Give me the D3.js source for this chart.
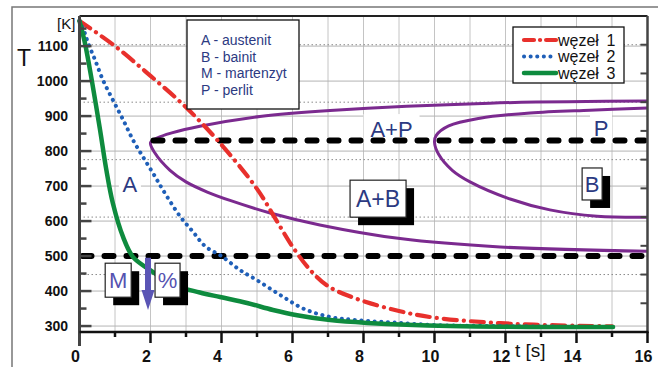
<!DOCTYPE html>
<html>
<head>
<meta charset="utf-8">
<script src="https://cdn.jsdelivr.net/npm/d3@7"></script>
<style>
  body { margin: 0; background: #fff; }
  svg { display: block; font-family: Arial, "Liberation Sans", sans-serif; }
</style>
</head>
<body>
<div id="chart"></div>
<script>
// cooling curves, [t (s), T (K)]
const wezel1 = [[0, 1172], [1, 1100], [2, 1015], [3, 925], [4, 818], [5, 692], [5.5, 610], [6, 527],
  [6.5, 460], [7, 414], [7.8, 378], [9, 343], [10, 324], [11.4, 311], [12.8, 304], [14.5, 300], [15, 299]];
const wezel2 = [[0, 1172], [0.15, 1137], [0.24, 1109], [0.44, 1060], [0.66, 1003], [0.94, 946], [1.23, 889],
  [1.51, 831], [1.79, 783], [2.07, 737], [2.35, 689], [2.83, 614], [3.2, 569], [3.55, 527], [4.0, 500],
  [4.52, 460], [5.0, 431], [5.65, 389], [6.3, 350], [7.06, 326], [7.82, 317], [9.03, 309], [9.96, 303],
  [11.85, 300], [15.0, 297]];
const wezel3 = [[0, 1172], [0.15, 1110], [0.35, 1000], [0.58, 860], [0.75, 750], [0.94, 651], [1.23, 554],
  [1.51, 497], [1.99, 460], [2.65, 417], [3.39, 396], [3.96, 383], [4.72, 366], [5.45, 346], [6.13, 331],
  [7.06, 317], [8.1, 309], [10.44, 300], [15.03, 297]];

// TTT curves (start / end of transformation)
const tttStart = [[16, 943], [11.56, 937], [7.06, 916], [5.08, 899], [3.39, 871], [2.6, 852], [2.2, 838],
  [2.0, 824], [2.12, 795], [2.55, 745], [3.0, 712], [3.6, 683], [4.24, 659], [5.37, 623], [6.77, 589],
  [9.03, 550], [11.85, 526], [16, 514]];
const tttEnd = [[16, 923], [14.38, 917], [12.69, 909], [11.28, 894], [10.4, 872], [10.05, 845], [10.0, 826],
  [10.12, 790], [10.5, 745], [11.0, 712], [12.13, 663], [13.25, 632], [14.58, 614], [16, 611]];

// critical temperatures: [T, from t]
const critLines = [[830, 2], [500, 0]];

const timeTicks = d3.range(0, 17, 2);
const timeMinor = d3.range(0, 17, 1);
const tempTicks = d3.range(300, 1101, 100);
const tempMinor = d3.range(300, 1151, 50);

const seriesNames = ['węzeł  1', 'węzeł  2', 'węzeł  3'];
const phaseNotes = ['A - austenit', 'B - bainit', 'M - martenzyt', 'P - perlit'];

const width = 658, height = 367;
const svg = d3.select('#chart').append('svg')
  .attr('width', width)
  .attr('height', height);

const x = d3.scaleLinear().domain([0, 16]).range([79.5, 647.5]);
const y = d3.scaleLinear().domain([283, 1186]).range([332, 16]);
const yr = d3.scaleLinear().domain([0, 11]).range([332, 16]);

// outer frame
svg.append('path')
  .attr('d', `M12,${height + 5}V7H${width + 5}`)
  .attr('fill', 'none')
  .attr('stroke', '#777')
  .attr('stroke-width', 1.5);

// grid
const grid = svg.append('g');
grid.selectAll('line.v').data(timeMinor.slice(1, -1)).enter().append('line')
  .attr('x1', (d) => x(d)).attr('x2', (d) => x(d))
  .attr('y1', y.range()[1]).attr('y2', y.range()[0])
  .attr('stroke', '#c4c4c4').attr('stroke-width', 1);
grid.selectAll('line.h').data(tempTicks).enter().append('line')
  .attr('x1', x(0)).attr('x2', x(16))
  .attr('y1', (d) => y(d)).attr('y2', (d) => y(d))
  .attr('stroke', '#b4b4b4').attr('stroke-width', 1);
grid.selectAll('line.d').data([2, 4, 6, 8, 10]).enter().append('line')
  .attr('x1', x(0)).attr('x2', x(16))
  .attr('y1', (d) => yr(d)).attr('y2', (d) => yr(d))
  .attr('stroke', '#8a8a8a').attr('stroke-width', 1)
  .attr('stroke-dasharray', '1.5 2.5');

// white backgrounds for bare labels
const bg = svg.append('g').attr('fill', '#fff');
bg.append('rect').attr('x', x(1.42) - 11).attr('y', y(683) - 19).attr('width', 22).attr('height', 22);
bg.append('rect').attr('x', x(8.79) - 28).attr('y', y(840) - 23).attr('width', 56).attr('height', 27);
bg.append('rect').attr('x', x(14.69) - 11).attr('y', y(843) - 26).attr('width', 22).attr('height', 33);

const smooth = d3.line().x((d) => x(d[0])).y((d) => y(d[1])).curve(d3.curveCatmullRom.alpha(0.5));

// TTT curves
svg.selectAll('path.ttt').data([tttStart, tttEnd]).enter().append('path')
  .attr('d', smooth)
  .attr('fill', 'none')
  .attr('stroke', '#7b2a8f')
  .attr('stroke-width', 3);

// critical temperature lines
svg.selectAll('line.crit').data(critLines).enter().append('line')
  .attr('x1', (d) => x(d[1]) + 3).attr('x2', x(16) - 3)
  .attr('y1', (d) => y(d[0])).attr('y2', (d) => y(d[0]))
  .attr('stroke', '#000')
  .attr('stroke-width', 6)
  .attr('stroke-linecap', 'round')
  .attr('stroke-dasharray', '9 13');

// cooling curves
const styles = [
  { color: '#e8302c', width: 4.2, dash: '13 7 0.1 7' },
  { color: '#1f5fb8', width: 4, dash: '0.1 6.5' },
  { color: '#0e8b3e', width: 4.5, dash: null },
];
svg.selectAll('path.cool').data([wezel1, wezel2, wezel3]).enter().append('path')
  .attr('d', smooth)
  .attr('fill', 'none')
  .attr('stroke', (d, i) => styles[i].color)
  .attr('stroke-width', (d, i) => styles[i].width)
  .attr('stroke-linecap', 'round')
  .attr('stroke-dasharray', (d, i) => styles[i].dash);

// axes
const axes = svg.append('g').attr('stroke-linecap', 'butt');
axes.append('line').attr('x1', x(0)).attr('x2', x(16)).attr('y1', y.range()[1]).attr('y2', y.range()[1])
  .attr('stroke', '#222').attr('stroke-width', 2);
axes.append('line').attr('x1', x(16)).attr('x2', x(16)).attr('y1', y.range()[1]).attr('y2', y.range()[0] + 1)
  .attr('stroke', '#444').attr('stroke-width', 2.5);
axes.selectAll('line.rt').data(d3.range(1, 11)).enter().append('line')
  .attr('x1', x(16) - 7).attr('x2', x(16))
  .attr('y1', (d) => yr(d)).attr('y2', (d) => yr(d))
  .attr('stroke', '#444').attr('stroke-width', 2);
axes.append('line').attr('x1', x(0)).attr('x2', x(0)).attr('y1', y.range()[1]).attr('y2', y.range()[0] + 14)
  .attr('stroke', '#444').attr('stroke-width', 3);
axes.selectAll('line.lt').data(tempMinor).enter().append('line')
  .attr('x1', x(0)).attr('x2', (d) => x(0) + (d % 100 === 0 ? 12 : 7))
  .attr('y1', (d) => y(d)).attr('y2', (d) => y(d))
  .attr('stroke', '#444').attr('stroke-width', 2.5);
axes.append('line').attr('x1', x(0)).attr('x2', x(16) + 1).attr('y1', y.range()[0]).attr('y2', y.range()[0])
  .attr('stroke', '#111').attr('stroke-width', 2.5);
axes.selectAll('line.bt').data(timeMinor.slice(1)).enter().append('line')
  .attr('x1', (d) => x(d)).attr('x2', (d) => x(d))
  .attr('y1', y.range()[0]).attr('y2', (d) => y.range()[0] + (d % 2 === 0 ? 11 : 5))
  .attr('stroke', '#111').attr('stroke-width', 2.5);

// tick labels
svg.append('g').selectAll('text').data(tempTicks).enter().append('text')
  .attr('x', 68).attr('y', (d) => y(d)).attr('dy', '0.36em')
  .attr('text-anchor', 'end')
  .style('font-size', '14px').style('font-weight', 'bold').attr('fill', '#111')
  .text((d) => d);
svg.append('g').selectAll('text').data(timeTicks).enter().append('text')
  .attr('x', (d) => x(d) - 4).attr('y', 362)
  .attr('text-anchor', 'middle')
  .style('font-size', '16px').style('font-weight', 'bold').attr('fill', '#111')
  .text((d) => d);

svg.append('text').attr('x', 17).attr('y', 66).style('font-size', '23px').attr('fill', '#111').text('T');
svg.append('text').attr('x', 57).attr('y', 29).style('font-size', '15px').attr('fill', '#111').text('[K]');
svg.append('text').attr('x', 515).attr('y', 357).style('font-size', '19px').attr('fill', '#111').text('t [s]');

// phase labels
const navy = '#2c3a82';
svg.append('text').attr('x', x(1.42)).attr('y', y(683)).attr('text-anchor', 'middle')
  .style('font-size', '22px').attr('fill', navy).text('A');
svg.append('text').attr('x', x(8.79)).attr('y', y(840)).attr('text-anchor', 'middle')
  .style('font-size', '22px').attr('fill', navy).text('A+P');
svg.append('text').attr('x', x(14.69)).attr('y', y(843)).attr('text-anchor', 'middle')
  .style('font-size', '22px').attr('fill', navy).text('P');

// boxed labels with shadows (on top of the curves)
function boxLabel(t, T, w, h, label, color, size) {
  const cx = x(t), cy = y(T);
  const g = svg.append('g');
  g.append('rect').attr('x', cx - w / 2 + 8).attr('y', cy - h / 2 + 8).attr('width', w).attr('height', h)
    .attr('fill', '#000');
  g.append('rect').attr('x', cx - w / 2).attr('y', cy - h / 2).attr('width', w).attr('height', h)
    .attr('fill', '#fff').attr('stroke', '#222').attr('stroke-width', 1.2);
  g.append('text').attr('x', cx).attr('y', cy).attr('dy', '0.36em').attr('text-anchor', 'middle')
    .style('font-size', size + 'px').attr('fill', color).text(label);
}
boxLabel(8.41, 664, 56, 37, 'A+B', navy, 23);
boxLabel(14.44, 706, 20, 32, 'B', navy, 22);
boxLabel(1.09, 431, 26, 34, 'M', '#5552b0', 22);
boxLabel(2.48, 431, 25, 34, '%', '#5552b0', 22);

// cooling arrow through M region
const ax = x(1.93);
svg.append('path')
  .attr('d', `M${ax - 3},${y(495)}L${ax + 3},${y(495)}L${ax + 3},${y(403)}L${ax + 6.5},${y(403)}`
    + `L${ax},${y(346)}L${ax - 6.5},${y(403)}L${ax - 3},${y(403)}Z`)
  .attr('fill', '#5a55b5');

// phase key
const note = svg.append('g');
note.append('rect').attr('x', 187).attr('y', 20).attr('width', 112).attr('height', 89)
  .attr('fill', '#fff').attr('stroke', '#111').attr('stroke-width', 1.3);
note.selectAll('text').data(phaseNotes).enter().append('text')
  .attr('x', 201).attr('y', (d, i) => 45 + i * 16.6)
  .style('font-size', '14px').attr('fill', navy)
  .text((d) => d);

// legend
const legend = svg.append('g');
legend.append('rect').attr('x', 513).attr('y', 27).attr('width', 111).attr('height', 56)
  .attr('fill', '#fff').attr('stroke', '#111').attr('stroke-width', 1.3);
const rows = legend.selectAll('g').data(seriesNames).enter().append('g')
  .attr('transform', (d, i) => `translate(0,${40 + i * 16.5})`);
rows.append('line').attr('x1', 524).attr('x2', 556).attr('y1', 0).attr('y2', 0)
  .attr('stroke', (d, i) => styles[i].color)
  .attr('stroke-width', (d, i) => styles[i].width)
  .attr('stroke-linecap', 'round')
  .attr('stroke-dasharray', (d, i) => (i === 0 ? '10 6 0.1 6' : styles[i].dash));
rows.append('text').attr('x', 558).attr('y', 0).attr('dy', '0.36em')
  .style('font-size', '16px').attr('fill', '#111')
  .text((d) => d.split('  ')[0]);
rows.append('text').attr('x', 611).attr('y', 0).attr('dy', '0.36em').attr('text-anchor', 'middle')
  .style('font-size', '16px').attr('fill', '#111')
  .text((d) => d.split('  ')[1]);
</script>
</body>
</html>
